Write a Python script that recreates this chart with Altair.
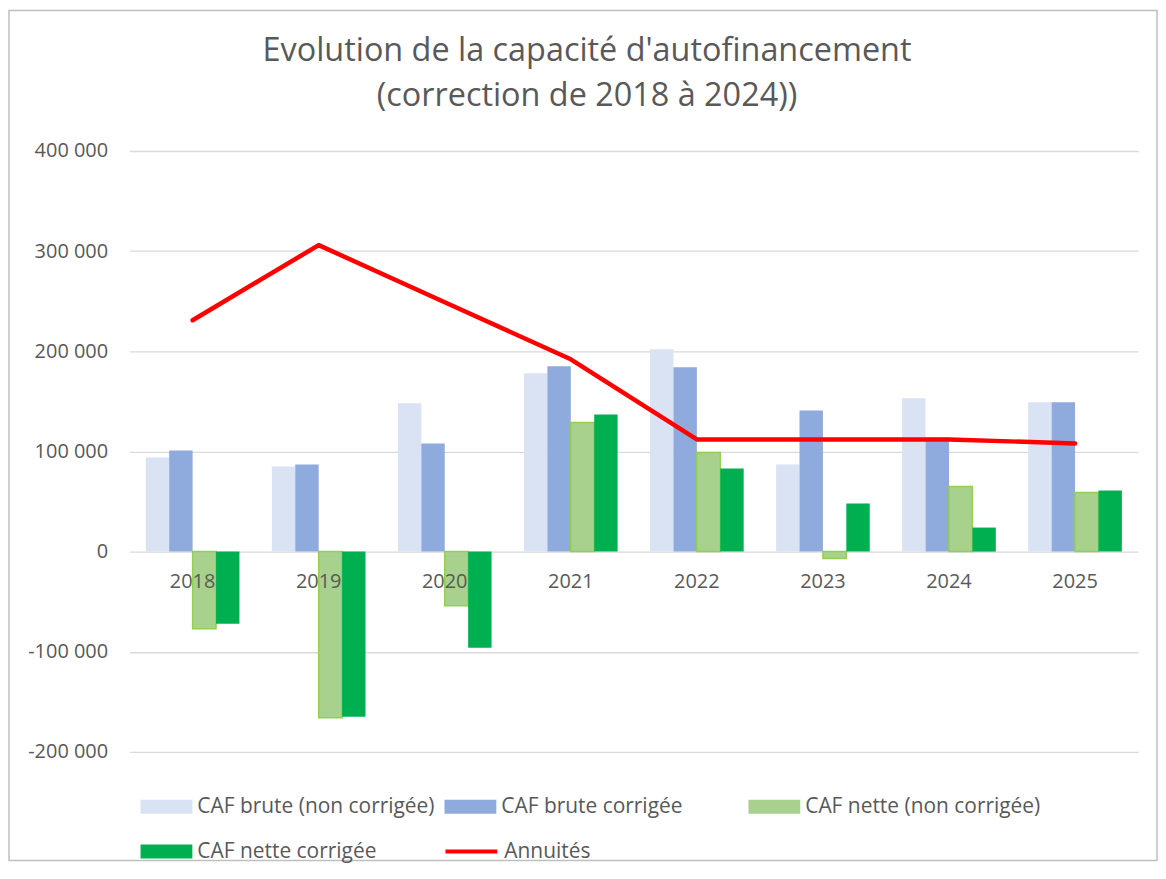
import altair as alt
import pandas as pd

years = ["2018", "2019", "2020", "2021", "2022", "2023", "2024", "2025"]
bar_series = [
    "CAF brute (non corrigée)",
    "CAF brute corrigée",
    "CAF nette (non corrigée)",
    "CAF nette corrigée",
]
line_series = "Annuités"
caf_brute_nc = [94000, 85000, 148000, 178000, 202000, 87000, 153000, 149000]
caf_brute_corr = [101000, 87000, 108000, 185000, 184000, 141000, 114000, 149000]
caf_nette_nc = [-77000, -166000, -54000, 129000, 99000, -7000, 65000, 59000]
caf_nette_corr = [-72000, -165000, -96000, 137000, 83000, 48000, 24000, 61000]
annuites = [231000, 306000, 249000, 192000, 112000, 112000, 112000, 108000]
y_ticks = [-200000, -100000, 0, 100000, 200000, 300000, 400000]

bar_colors = ["#dae3f3", "#8faadc", "#a9d18e", "#00b050"]
line_color = "#ff0000"
FONT = "Open Sans"
TXT = "#595959"

bar_rows = []
for s, vals in zip(bar_series, [caf_brute_nc, caf_brute_corr, caf_nette_nc, caf_nette_corr]):
    for y, v in zip(years, vals):
        bar_rows.append({"year": y, "series": s, "value": v})
bars_df = pd.DataFrame(bar_rows)
line_df = pd.DataFrame({"year": years, "series": line_series, "value": annuites})
years_df = pd.DataFrame({"year": years})
frame_df = pd.DataFrame({"k": [0]})

W, H = 1012, 603

x_scale = alt.Scale(domain=years, paddingInner=0.257, paddingOuter=0.1285)
y_scale = alt.Scale(domain=[-200000, 400000], nice=False)

rect_path = "M-1,-0.27L1,-0.27L1,0.27L-1,0.27Z"
common_legend = dict(
    title=None,
    orient="none",
    padding=0,
    labelFont=FONT,
    labelFontSize=21,
    labelColor=TXT,
    labelOffset=5,
    labelLimit=0,
    symbolSize=2704,
)
bar_legend = alt.Legend(
    legendX=11,
    legendY=632,
    direction="horizontal",
    columns=3,
    gridAlign="all",
    columnPadding=9,
    rowPadding=9,
    symbolType=rect_path,
    symbolStrokeWidth=0,
    symbolOpacity=1,
    **common_legend,
)
line_legend = alt.Legend(
    legendX=315,
    legendY=675,
    symbolType="stroke",
    symbolStrokeWidth=4,
    **common_legend,
)

y_axis = alt.Axis(
    values=y_ticks,
    title=None,
    domain=False,
    ticks=False,
    grid=True,
    gridColor="#d9d9d9",
    gridWidth=1.3,
    labelFont=FONT,
    labelFontSize=20,
    labelColor=TXT,
    labelPadding=22,
    labelExpr="replace(replace(format(datum.value, ','), ',', ' '), '\u2212', '-')",
)

frame = alt.Chart(frame_df).mark_rect(fillOpacity=0, stroke="#bfbfbf", strokeWidth=1.5).encode(
    x=alt.value(-121), x2=alt.value(W + 19), y=alt.value(-141), y2=alt.value(H + 109)
)

bars = alt.Chart(bars_df).mark_bar(strokeWidth=1.5).encode(
    x=alt.X("year:N", scale=x_scale, axis=None),
    xOffset=alt.XOffset("series:N", sort=bar_series, scale=alt.Scale(paddingInner=0, paddingOuter=0)),
    y=alt.Y("value:Q", scale=y_scale, axis=y_axis),
    color=alt.Color("series:N", scale=alt.Scale(domain=bar_series, range=bar_colors), legend=bar_legend, sort=bar_series),
    stroke=alt.condition(alt.datum.series == "CAF nette (non corrigée)", alt.value("#92d050"), alt.value("transparent")),
)

year_labels = alt.Chart(years_df).mark_text(
    dy=31, fontSize=20, font=FONT, color=TXT
).encode(
    x=alt.X("year:N", scale=x_scale, axis=None),
    y=alt.datum(0, scale=y_scale, axis=y_axis),
    text="year:N",
)

line = alt.Chart(line_df).mark_line(strokeWidth=4.5, strokeCap="round", strokeJoin="round").encode(
    x=alt.X("year:N", scale=x_scale, axis=None),
    y=alt.Y("value:Q", scale=y_scale, axis=y_axis),
    stroke=alt.Stroke("series:N", scale=alt.Scale(domain=[line_series], range=[line_color]), legend=line_legend),
)

chart = alt.layer(frame, bars, year_labels, line).resolve_scale(
    color="independent", stroke="independent"
).properties(
    width=W,
    height=H,
    autosize=alt.AutoSizeParams(type="none"),
    padding={"left": 122, "top": 142, "right": 20, "bottom": 110},
    title=alt.TitleParams(
        text=["Evolution de la capacité d'autofinancement", "(correction de 2018 à 2024))"],
        font=FONT,
        fontSize=32.5,
        fontWeight="normal",
        color=TXT,
        anchor="middle",
        frame="group",
        lineHeight=45,
        offset=-103,
        dx=-47,
    ),
).configure_view(stroke=None)

chart.save("out.html", embed_options={"renderer": "svg", "actions": False})
